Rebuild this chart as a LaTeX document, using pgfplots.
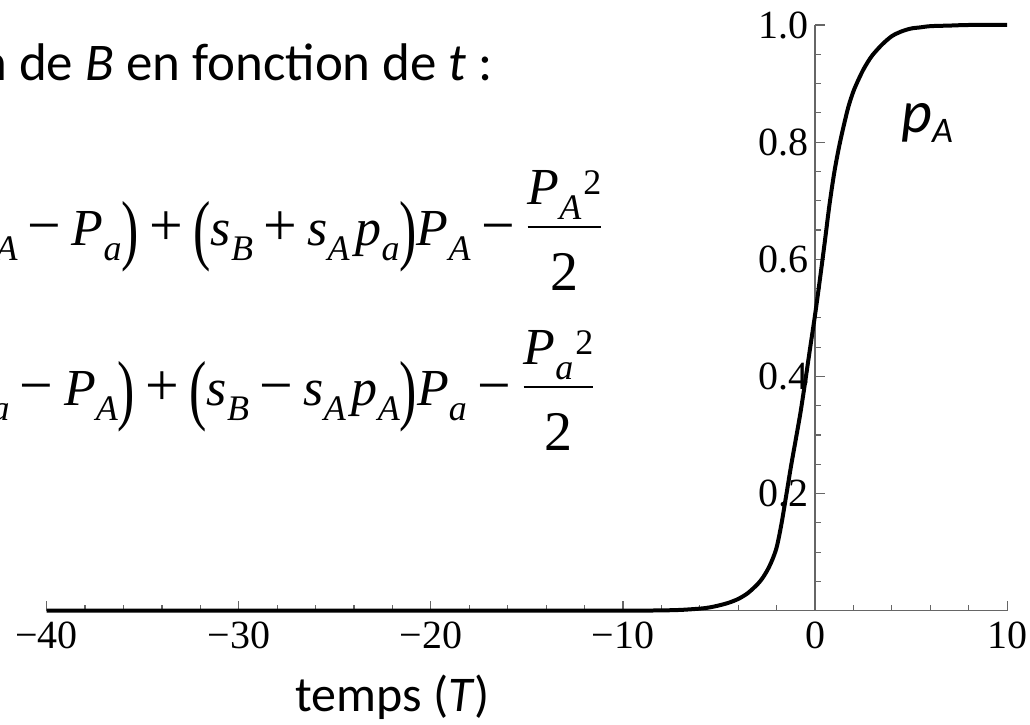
\RequirePackage{fix-cm}
\documentclass[border=0pt]{standalone}
\usepackage{amsmath}
\usepackage{graphicx}
\usepackage{fontspec}
\setmainfont{Carlito}
\newfontfamily\tnr{Liberation Serif}
\usepackage{pgfplots}
\pgfplotsset{compat=1.18}

% pieces of the equations, set in text mode with the serif font
\newcommand{\subx}[1]{\raisebox{-0.28em}{\tnr\itshape\fontsize{18}{18}\selectfont #1}}
\newcommand{\supx}[1]{\hspace{1pt}\raisebox{5pt}{\tnr\upshape\fontsize{18}{18}\selectfont #1}}
\newcommand{\lp}{\raisebox{-0.18em}{\scalebox{1}[1.5]{\tnr\upshape (}}}
\newcommand{\rp}{\raisebox{-0.18em}{\scalebox{1}[1.5]{\tnr\upshape )}}}
\newcommand{\op}[1]{\hspace{0.2em}\scalebox{1.15}{\tnr\upshape #1}\hspace{0.2em}}
\newcommand{\eqfont}{\tnr\itshape\fontsize{26}{26}\selectfont}
\newcommand{\half}[1]{\raisebox{3pt}{$\dfrac{\mbox{#1}}{\mbox{\rule{0pt}{1.1em}\tnr\upshape\fontsize{28}{28}\selectfont 2}}$}}

\begin{document}
\begin{tikzpicture}
\begin{axis}[
  scale only axis, width=480.5pt, height=293pt,
  xmin=-40, xmax=10, ymin=0, ymax=1,
  axis lines=middle,
  axis line style={-, draw=black!60, line width=0.6pt},
  tick style={draw=black!60, line width=0.6pt},
  tick align=inside,
  major tick length=5pt, minor tick length=3pt,
  hide obscured x ticks=false,
  xtick={-40,-30,-20,-10,0,10}, xticklabels={−40,−30,−20,−10,0,10},
  ytick={0,0.2,0.4,0.6,0.8,1}, yticklabels={,0.2,0.4,0.6,0.8,1.0},
  minor x tick num=4, minor y tick num=3,
  tick label style={font=\tnr\fontsize{20}{20}\selectfont},
  xticklabel style={yshift=-2pt},
  clip=false,
]
\addplot[black, line width=2pt, smooth] coordinates {
(-40,0) (-20,0) (-10,0.0001) (-8,0.0005) (-7,0.0013) (-6,0.0035) (-5.5,0.0055)
(-5,0.009) (-4.5,0.0135) (-4,0.020) (-3.5,0.030) (-3,0.045) (-2.75,0.055)
(-2.5,0.068) (-2.25,0.085) (-2,0.108) (-1.75,0.148) (-1.5,0.197) (-1.25,0.247)
(-1,0.293) (-0.75,0.34) (-0.5,0.394) (-0.25,0.45) (0,0.505) (0.25,0.565)
(0.5,0.628) (0.75,0.693) (1,0.748) (1.25,0.792) (1.5,0.829) (1.75,0.862)
(2,0.887) (2.25,0.906) (2.5,0.923) (2.75,0.937) (3,0.949) (3.5,0.967)
(4,0.981) (4.5,0.989) (5,0.994) (5.5,0.996) (6,0.998) (7,0.999) (8,1.0) (10,1.0)};

% texts of the slide
\node[anchor=base east, inner sep=0pt, font=\fontsize{26.5}{26.5}\selectfont]
  at (axis cs:-16.75,0.906) {Évolution de \textit{B} en fonction de \textit{t} :};
\node[anchor=base east, inner sep=0pt, font=\eqfont]
  at (axis cs:-10.98,0.623)
  {\lp P\subx{A}\op{−}P\subx{a}\rp\op{+}\lp s\subx{B}\op{+}s\subx{A}\hspace{3pt}p\subx{a}\rp P\subx{A}\op{−}\half{P\subx{A}\supx{2}}};
\node[anchor=base east, inner sep=0pt, font=\eqfont]
  at (axis cs:-11.39,0.350)
  {\lp P\subx{a}\op{−}P\subx{A}\rp\op{+}\lp s\subx{B}\op{−}s\subx{A}\hspace{3pt}p\subx{A}\rp P\subx{a}\op{−}\half{P\subx{a}\supx{2}}};
\node[anchor=base west, inner sep=0pt, font=\fontsize{30}{30}\selectfont]
  at (axis cs:4.47,0.816) {\textit{p}\raisebox{-5pt}{\fontsize{18}{18}\selectfont\textit{A}}};
\node[anchor=base, inner sep=0pt, font=\fontsize{25}{25}\selectfont]
  at (axis cs:-22.0,-0.172) {temps (\textit{T})};

\coordinate (bbsw) at (axis cs:-42.43,-0.1945);
\coordinate (bbne) at (axis cs:11.19,1.0427);
\end{axis}
\pgfresetboundingbox
\path[use as bounding box] (bbsw) rectangle (bbne);
\end{tikzpicture}
\end{document}
